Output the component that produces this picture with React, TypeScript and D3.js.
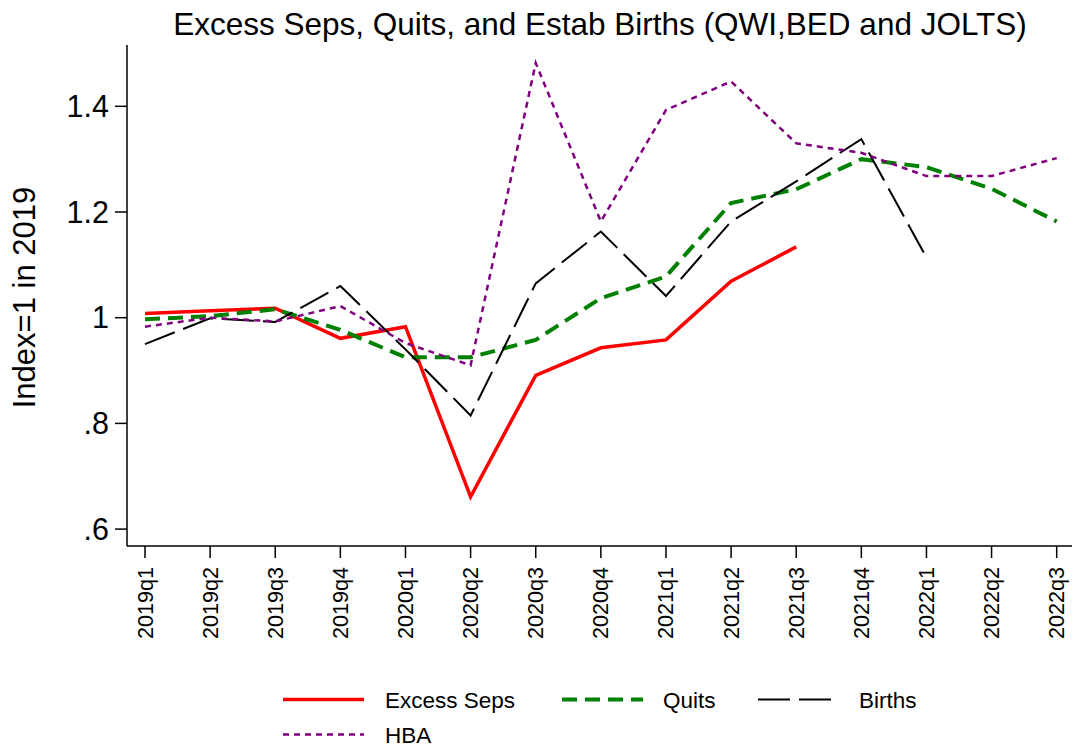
import React from "react";
import * as d3 from "d3";

const quarters = [
  "2019q1", "2019q2", "2019q3", "2019q4",
  "2020q1", "2020q2", "2020q3", "2020q4",
  "2021q1", "2021q2", "2021q3", "2021q4",
  "2022q1", "2022q2", "2022q3",
];

const excessSeps: (number | null)[] = [1.008, 1.013, 1.018, 0.961, 0.983, 0.661, 0.891, 0.943, 0.958, 1.069, 1.134, null, null, null, null];
const quits: (number | null)[] = [0.997, 1.003, 1.016, 0.977, 0.925, 0.925, 0.958, 1.037, 1.078, 1.217, 1.243, 1.3, 1.285, 1.244, 1.182];
const births: (number | null)[] = [0.95, 0.999, 0.992, 1.06, 0.94, 0.815, 1.065, 1.163, 1.041, 1.182, 1.258, 1.338, 1.114, null, null];
const hba: (number | null)[] = [0.983, 1.0, 0.993, 1.022, 0.952, 0.91, 1.482, 1.182, 1.393, 1.447, 1.33, 1.312, 1.268, 1.268, 1.302];

const yTicks = [0.6, 0.8, 1.0, 1.2, 1.4];
const yTickLabels = [".6", ".8", "1", "1.2", "1.4"];

const seriesNames = ["Excess Seps", "Quits", "Births", "HBA"];

const FONT = "'Liberation Sans', Arial, sans-serif";

export default function App() {
  const W = 1072, H = 748;
  const x = d3.scaleLinear().domain([0, quarters.length - 1]).range([145, 1056.7]);
  const y = d3.scaleLinear().domain([0.568, 1.516]).range([546, 45]);

  const series = [
    { name: seriesNames[0], data: excessSeps, color: "#ff0000", width: 3.5, dash: "none" },
    { name: seriesNames[1], data: quits, color: "#008000", width: 4, dash: "15,8" },
    { name: seriesNames[2], data: births, color: "#000000", width: 2, dash: "32,9" },
    { name: seriesNames[3], data: hba, color: "#800080", width: 2.5, dash: "6,5" },
  ];

  const line = d3
    .line<number | null>()
    .defined((d) => d !== null)
    .x((_, i) => x(i))
    .y((d) => y(d as number));

  const legendItems = [
    { s: series[0], kx: 283, ky: 699.5, tx: 385, ty: 708 },
    { s: series[1], kx: 562, ky: 699.5, tx: 663, ty: 708 },
    { s: series[2], kx: 758, ky: 699.5, tx: 859, ty: 708 },
    { s: series[3], kx: 283, ky: 734.5, tx: 385, ty: 742.5 },
  ];

  const axisX = 127;
  const axisY = 546;

  return (
    <svg
      width={W}
      height={H}
      viewBox={`0 0 ${W} ${H}`}
      style={{ position: "absolute", left: 0, top: 0, background: "#fff", fontFamily: FONT }}
    >
      <rect x={0} y={0} width={W} height={H} fill="#fff" />
      <text x={600} y={34.5} textAnchor="middle" fontSize={31.5} fill="#000">
        Excess Seps, Quits, and Estab Births (QWI,BED and JOLTS)
      </text>

      {/* y axis */}
      <line x1={axisX} x2={axisX} y1={45} y2={axisY} stroke="#000" strokeWidth={1.5} />
      {yTicks.map((t, i) => (
        <g key={t}>
          <line x1={115} x2={axisX} y1={y(t)} y2={y(t)} stroke="#000" strokeWidth={1.5} />
          <text x={109} y={y(t) + 10.5} textAnchor="end" fontSize={30.5} fill="#000">
            {yTickLabels[i]}
          </text>
        </g>
      ))}
      <text
        transform={`translate(35,297.5) rotate(-90)`}
        textAnchor="middle"
        fontSize={31}
        fill="#000"
      >
        Index=1 in 2019
      </text>

      {/* x axis */}
      <line x1={axisX} x2={W} y1={axisY} y2={axisY} stroke="#000" strokeWidth={1.5} />
      {quarters.map((q, i) => (
        <g key={q}>
          <line x1={x(i)} x2={x(i)} y1={axisY} y2={axisY + 12} stroke="#000" strokeWidth={1.5} />
          <text
            transform={`translate(${x(i) + 7.5},567) rotate(-90)`}
            textAnchor="end"
            fontSize={21.6}
            fill="#000"
          >
            {q}
          </text>
        </g>
      ))}

      {/* lines */}
      {series.map((s) => (
        <path
          key={s.name}
          d={line(s.data) || ""}
          fill="none"
          stroke={s.color}
          strokeWidth={s.width}
          strokeDasharray={s.dash}
          strokeLinejoin="miter"
        />
      ))}

      {/* legend */}
      {legendItems.map((it) => (
        <g key={it.s.name}>
          <line
            x1={it.kx}
            x2={it.kx + 81}
            y1={it.ky}
            y2={it.ky}
            stroke={it.s.color}
            strokeWidth={it.s.width}
            strokeDasharray={it.s.dash}
          />
          <text x={it.tx} y={it.ty} fontSize={22.5} fill="#000">
            {it.s.name}
          </text>
        </g>
      ))}
    </svg>
  );
}
